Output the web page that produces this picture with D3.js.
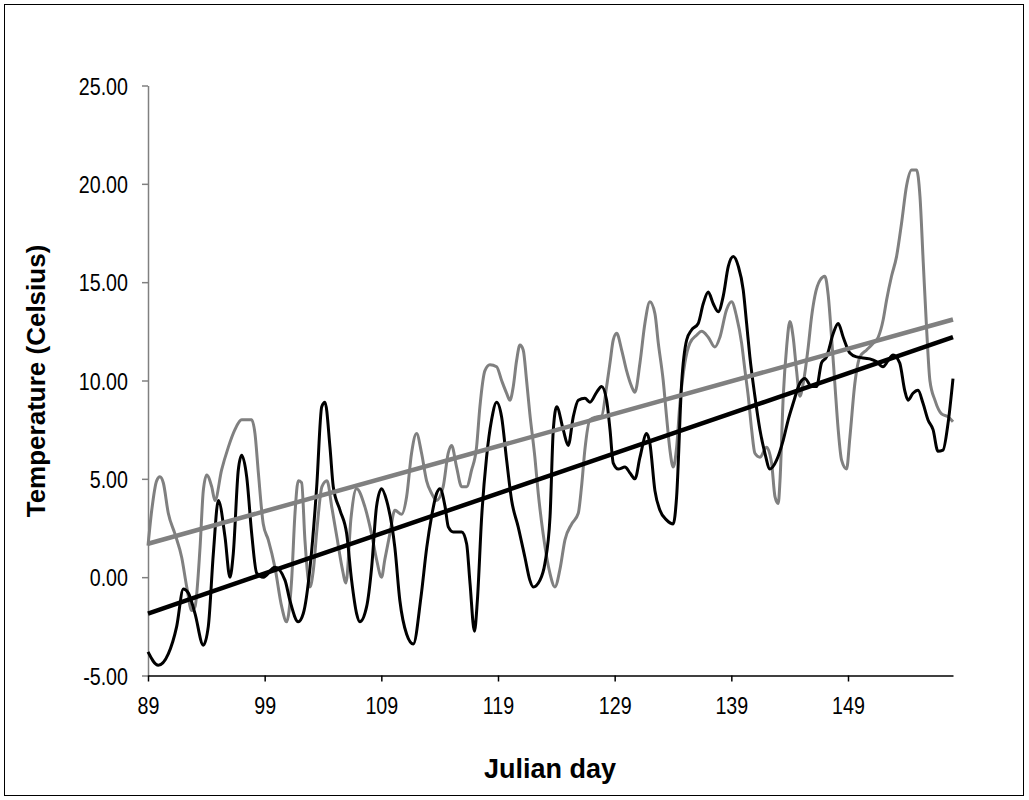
<!DOCTYPE html>
<html>
<head>
<meta charset="utf-8">
<script src="https://cdn.jsdelivr.net/npm/d3@7"></script>
<style>
	body { margin: 0; background: #fff; }
	svg text { font-family: "Liberation Sans", Arial, sans-serif; fill: #000; }
</style>
</head>
<body>
<div id="chart"></div>
<script>
// series: [julian day, temperature]
var grayDay = [89.0, 89.32, 89.74, 90.02, 90.31, 90.74, 91.31, 91.89, 92.32, 92.75, 93.03, 93.46, 93.74, 94.03, 94.46, 94.74, 95.31, 95.88, 96.45, 97.03, 97.89, 98.17, 98.46, 98.88, 99.31, 99.88, 100.46, 100.88, 101.31, 101.6, 101.88, 102.17, 102.45, 102.88, 103.17, 103.49, 103.91, 104.34, 104.77, 105.2, 105.63, 105.97, 106.4, 106.88, 107.58, 108.16, 108.59, 109.02, 109.3, 109.73, 110.16, 110.74, 111.17, 111.59, 112.02, 112.45, 112.88, 113.31, 113.74, 114.3, 114.73, 115.02, 115.45, 115.88, 116.31, 116.74, 117.16, 117.45, 117.88, 118.31, 118.88, 119.31, 119.74, 120.02, 120.31, 120.59, 120.88, 121.16, 121.45, 121.73, 122.16, 122.45, 122.87, 123.45, 123.88, 124.31, 124.74, 125.31, 125.88, 126.16, 126.45, 126.88, 127.45, 127.88, 128.31, 128.6, 128.88, 129.17, 129.6, 130.02, 130.45, 130.73, 131.17, 131.59, 132.02, 132.45, 132.74, 133.16, 133.45, 133.73, 134.02, 134.31, 134.59, 135.02, 135.45, 136.02, 136.45, 137.02, 137.59, 138.02, 138.59, 139.02, 139.45, 139.88, 140.17, 140.45, 140.74, 141.02, 141.45, 142.02, 142.45, 142.74, 143.02, 143.17, 143.45, 143.74, 144.02, 144.3, 144.59, 144.87, 145.16, 145.59, 145.88, 146.16, 146.6, 147.02, 147.31, 147.59, 147.87, 148.16, 148.45, 148.88, 149.16, 149.59, 150.02, 150.6, 151.16, 151.59, 152.02, 152.31, 152.73, 153.16, 153.59, 154.02, 154.45, 154.88, 155.17, 155.45, 155.74, 156.02, 156.45, 157.02, 157.59, 158.0];
var grayTemp = [1.6, 3.4, 4.9, 5.1, 4.8, 3.25, 2.2, 1.0, -0.5, -1.7, -1.5, 1.5, 4.4, 5.2, 4.6, 3.9, 5.45, 6.6, 7.5, 8.0, 8.0, 7.3, 5.3, 2.7, 1.9, 0.5, -1.5, -2.27, -0.15, 3.25, 4.9, 4.8, 1.9, -0.5, 0.35, 2.5, 4.6, 4.9, 3.5, 2.0, 0.5, -0.3, 3.0, 4.5, 3.6, 2.2, 0.9, 0.0, 0.9, 2.2, 3.4, 3.2, 4.1, 6.3, 7.3, 6.3, 4.9, 4.26, 3.9, 4.6, 6.3, 6.7, 5.6, 4.6, 4.6, 5.45, 6.6, 8.67, 10.5, 10.8, 10.7, 10.0, 9.35, 9.0, 9.7, 11.0, 11.8, 11.55, 10.0, 8.3, 6.1, 4.26, 2.2, 0.2, -0.5, 0.4, 1.9, 2.7, 3.25, 4.6, 6.5, 8.0, 8.15, 8.2, 9.7, 10.9, 12.06, 12.4, 11.55, 10.5, 9.7, 9.4, 10.9, 12.9, 14.0, 13.4, 11.9, 10.0, 8.15, 6.5, 5.6, 6.6, 8.8, 10.9, 11.9, 12.3, 12.5, 12.2, 11.7, 12.2, 13.6, 14.0, 13.25, 11.9, 10.5, 9.2, 7.5, 6.3, 6.1, 6.6, 5.8, 4.1, 3.75, 4.9, 9.2, 11.7, 13.0, 12.2, 10.5, 9.2, 9.86, 11.7, 13.25, 14.3, 15.1, 15.3, 14.3, 12.2, 9.86, 7.5, 5.95, 5.5, 7.1, 9.86, 11.2, 11.55, 11.9, 12.2, 13.1, 14.1, 15.3, 16.3, 18.0, 19.9, 20.7, 20.7, 19.35, 16.0, 12.6, 10.0, 9.0, 8.3, 8.15, 7.9];

var blackDay = [89.0, 89.88, 90.74, 91.46, 92.03, 92.45, 93.03, 93.74, 94.17, 94.6, 95.03, 95.6, 96.02, 96.31, 96.74, 97.03, 97.46, 97.89, 98.32, 98.88, 99.88, 100.74, 101.17, 101.88, 102.31, 102.89, 103.46, 103.89, 104.17, 104.6, 104.88, 105.46, 106.03, 106.45, 106.88, 107.16, 107.74, 108.17, 108.59, 109.02, 109.45, 110.16, 110.59, 111.17, 111.74, 112.4, 112.89, 113.31, 113.74, 114.03, 114.46, 114.74, 115.17, 115.89, 116.31, 116.6, 116.98, 117.23, 117.6, 118.02, 118.45, 118.88, 119.31, 119.74, 120.17, 120.73, 121.31, 121.73, 122.02, 122.6, 123.02, 123.46, 123.74, 124.03, 124.59, 125.02, 125.45, 125.88, 126.45, 126.88, 127.45, 127.88, 128.31, 128.6, 128.88, 129.31, 129.88, 130.31, 130.74, 131.17, 131.74, 132.02, 132.45, 132.88, 133.46, 134.02, 134.31, 134.74, 135.17, 135.59, 136.16, 136.59, 137.02, 137.45, 137.88, 138.31, 138.74, 139.17, 139.6, 140.02, 140.31, 140.59, 141.02, 141.45, 141.88, 142.31, 142.88, 143.45, 143.87, 144.3, 144.87, 145.3, 145.88, 146.31, 146.73, 147.16, 147.74, 148.16, 148.59, 149.16, 149.73, 150.86, 151.43, 152.0, 152.43, 152.86, 153.43, 153.86, 154.14, 154.57, 155.0, 155.43, 155.86, 156.29, 156.71, 157.14, 157.57, 158.0];
var blackTemp = [-3.8, -4.48, -3.9, -2.5, -0.6, -0.8, -1.85, -3.46, -2.5, 1.2, 3.9, 2.05, 0.0, 1.2, 5.45, 6.2, 5.1, 2.2, 0.2, 0.0, 0.5, -0.15, -1.2, -2.27, -1.85, 0.5, 4.6, 8.67, 8.9, 6.6, 4.6, 3.4, 2.2, -0.15, -1.85, -2.27, -1.5, 0.5, 3.6, 4.5, 3.9, 1.5, -1.2, -2.9, -3.4, -1.0, 1.5, 3.1, 4.26, 4.5, 3.6, 2.56, 2.3, 2.3, 1.7, -0.3, -2.75, -1.2, 3.07, 6.1, 8.0, 8.9, 8.15, 5.95, 3.9, 2.56, 1.0, -0.15, -0.5, -0.15, 0.7, 3.07, 7.5, 8.67, 7.5, 6.7, 8.15, 9.0, 9.1, 8.9, 9.4, 9.7, 9.0, 7.5, 5.8, 5.5, 5.6, 5.3, 5.0, 6.1, 7.3, 6.8, 4.4, 3.4, 2.9, 2.7, 4.1, 9.86, 12.06, 12.57, 12.9, 13.9, 14.5, 13.9, 13.5, 14.3, 15.8, 16.3, 15.8, 14.6, 12.9, 11.2, 9.2, 7.5, 6.3, 5.5, 5.95, 6.97, 7.99, 8.84, 9.86, 10.1, 9.7, 9.7, 10.9, 11.2, 12.4, 12.9, 12.2, 11.4, 11.2, 11.1, 10.96, 10.7, 11.0, 11.3, 10.9, 9.5, 9.0, 9.35, 9.5, 8.84, 7.99, 7.5, 6.4, 6.46, 7.8, 10.1];

// linear trend lines, ends
var grayTrend = [[89, 1.7], [158, 13.1]];
var blackTrend = [[89, -1.85], [158, 12.2]];

var xTicks = [89, 99, 109, 119, 129, 139, 149];
var yTicks = [-5, 0, 5, 10, 15, 20, 25];

var width = 1029, height = 800;
var svg = d3.select("#chart").append("svg")
	.attr("width", width)
	.attr("height", height);

// outer frame
svg.append("rect")
	.attr("x", 4.5).attr("y", 4.5)
	.attr("width", 1019).attr("height", 791)
	.attr("fill", "none")
	.attr("stroke", "#000")
	.attr("stroke-width", 1);

var x = d3.scaleLinear().domain([89, 158]).range([148, 953]);
var y = d3.scaleLinear().domain([-5, 25]).range([675.5, 85.5]);

var squeeze = 0.82; // tick labels look narrow in the original

// y axis (grey line, ticks outside)
var yAxis = svg.append("g")
	.attr("transform", "translate(148,0)")
	.call(d3.axisLeft(y).tickValues(yTicks).tickSize(6).tickSizeOuter(0)
		.tickFormat(function(d) { return d3.format(".2f")(d).replace("\u2212", "-"); }));
yAxis.selectAll("path, line").attr("stroke", "#808080").attr("stroke-width", 1.5);
yAxis.selectAll("text")
	.attr("x", -20 / squeeze)
	.attr("dy", "0.36em")
	.attr("transform", "scale(" + squeeze + ",1)")
	.style("font-size", "24px");

// x axis
var xAxis = svg.append("g")
	.attr("transform", "translate(0,675.5)")
	.call(d3.axisBottom(x).tickValues(xTicks).tickSize(6).tickSizeOuter(0));
xAxis.selectAll("path, line").attr("stroke", "#000").attr("stroke-width", 1.5);
xAxis.selectAll("text")
	.attr("y", 39)
	.attr("dy", 0)
	.attr("transform", "scale(" + squeeze + ",1)")
	.style("font-size", "24px");

// axis titles
svg.append("text")
	.attr("x", 550)
	.attr("y", 778)
	.attr("text-anchor", "middle")
	.style("font-size", "27px")
	.style("font-weight", "bold")
	.text("Julian day");

svg.append("text")
	.attr("transform", "translate(45,381) rotate(-90)")
	.attr("text-anchor", "middle")
	.style("font-size", "26px")
	.style("font-weight", "bold")
	.text("Temperature (Celsius)");

function addSeries(days, temps, color, w) {
	var pts = days.map(function(d, i) { return [d, temps[i]]; });
	svg.append("path")
		.datum(pts)
		.attr("fill", "none")
		.attr("stroke", color)
		.attr("stroke-width", w)
		.attr("stroke-linejoin", "round")
		.attr("d", d3.line()
			.x(function(d) { return x(d[0]); })
			.y(function(d) { return y(d[1]); })
			.curve(d3.curveMonotoneX));
}

function addTrend(pts, color) {
	svg.append("path")
		.datum(pts)
		.attr("fill", "none")
		.attr("stroke", color)
		.attr("stroke-width", 4.5)
		.attr("d", d3.line()
			.x(function(d) { return x(d[0]); })
			.y(function(d) { return y(d[1]); }));
}

addSeries(grayDay, grayTemp, "#808080", 3);
addSeries(blackDay, blackTemp, "#000", 3);
addTrend(grayTrend, "#808080");
addTrend(blackTrend, "#000");
</script>
</body>
</html>
